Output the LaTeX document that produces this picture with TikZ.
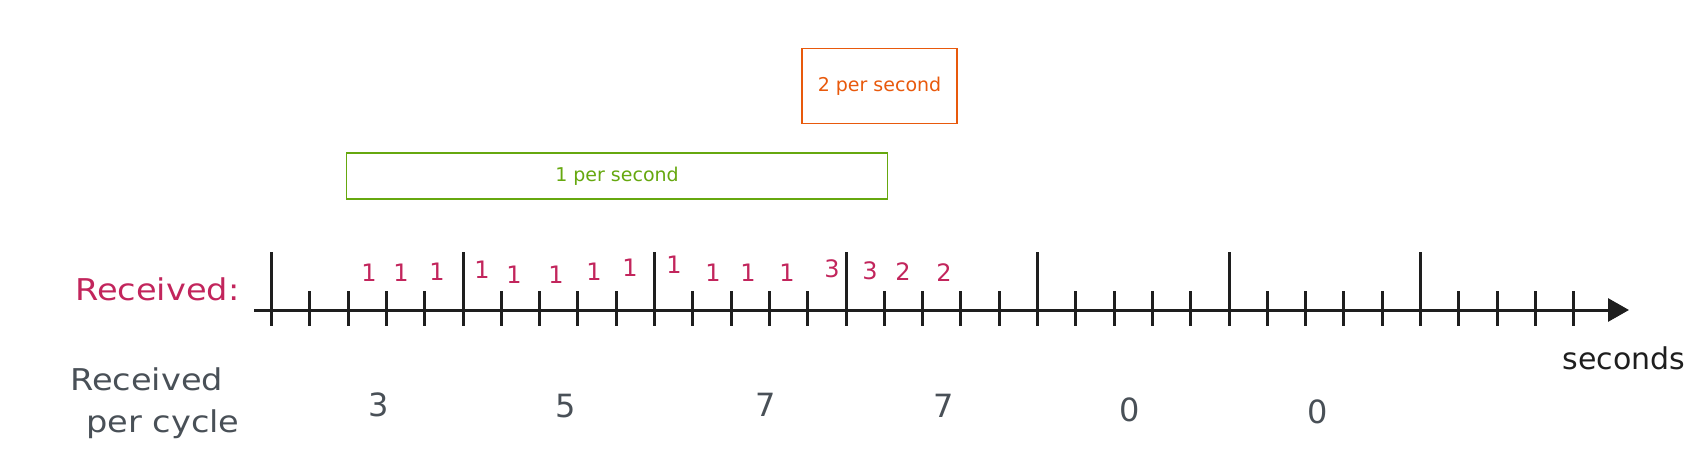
\documentclass[tikz,border=0pt]{standalone}
\usepackage{fontspec}
\setmainfont{DejaVu Sans}
\newfontfamily\widefont[FakeStretch=1.12]{DejaVu Sans}
\usetikzlibrary{arrows.meta}
\definecolor{rred}{HTML}{C2255C}
\definecolor{rgreen}{HTML}{66A80F}
\definecolor{rorange}{HTML}{E8590C}
\definecolor{rgray}{HTML}{495057}
\definecolor{rblack}{HTML}{1E1E1E}
\tikzset{
  axisline/.style={line width=3pt, draw=rblack, -{Triangle[length=21pt,width=23pt]}},
  majortick/.style={line width=3pt, draw=rblack},
  minortick/.style={line width=3pt, draw=rblack},
  rate/.style={draw=#1, line width=1.6pt, text=#1, font=\fontsize{19}{22}\selectfont, inner sep=0pt},
  cnt/.style={text=rred, font=\fontsize{24}{26}\selectfont, inner sep=0pt},
  tot/.style={text=rgray, font=\fontsize{32}{36}\selectfont, inner sep=0pt},
  lbl/.style={font=\widefont\fontsize{30}{34}\selectfont, inner sep=0pt, anchor=west},
}
\begin{document}
\begin{tikzpicture}[x=1pt,y=-1pt]
\useasboundingbox (0,0) rectangle (1706,455);
% boxes
\node[rate=rorange, minimum width=155pt, minimum height=75pt] (two) at (879.5,86) {2 per second};
\node[rate=rgreen, minimum width=541pt, minimum height=46pt] (one) at (617,176) {1 per second};
% axis
\coordinate (axstart) at (254,310);
\coordinate (axend) at (1629,310);
\foreach \i in {0,...,34} {
  \draw[minortick] ({271.5+38.3*\i},291) -- ({271.5+38.3*\i},326);
}
\foreach \k in {0,...,6} {
  \draw[majortick] ({271.5+191.5*\k},252) -- ({271.5+191.5*\k},326);
}
\draw[axisline] (axstart) -- (axend);
% labels
\node[lbl, text=rred] (recv) at (75,289) {Received:};
\node[lbl, text=rgray] (recvc1) at (70,379) {Received};
\node[lbl, text=rgray] (recvc2) at (86,424) {per cycle};
\node[font=\fontsize{30}{34}\selectfont, text=rblack, inner sep=0pt] (secs) at (1624,358) {seconds};
% received counts
\node[cnt] (c1) at (369,273) {1};
\node[cnt] (c2) at (401,273) {1};
\node[cnt] (c3) at (437,272) {1};
\node[cnt] (c4) at (482,270) {1};
\node[cnt] (c5) at (514,275) {1};
\node[cnt] (c6) at (556,275) {1};
\node[cnt] (c7) at (594,272) {1};
\node[cnt] (c8) at (630,268) {1};
\node[cnt] (c9) at (674,265) {1};
\node[cnt] (c10) at (713,273) {1};
\node[cnt] (c11) at (748,273) {1};
\node[cnt] (c12) at (787,273) {1};
\node[cnt] (c13) at (832,269) {3};
\node[cnt] (c14) at (870,271) {3};
\node[cnt] (c15) at (903,272) {2};
\node[cnt] (c16) at (944,273) {2};
% totals per cycle
\node[tot] (t1) at (379,405) {3};
\node[tot] (t2) at (566,406) {5};
\node[tot] (t3) at (766,405) {7};
\node[tot] (t4) at (944,406) {7};
\node[tot] (t5) at (1130,410) {0};
\node[tot] (t6) at (1318,412) {0};
\end{tikzpicture}
\end{document}
